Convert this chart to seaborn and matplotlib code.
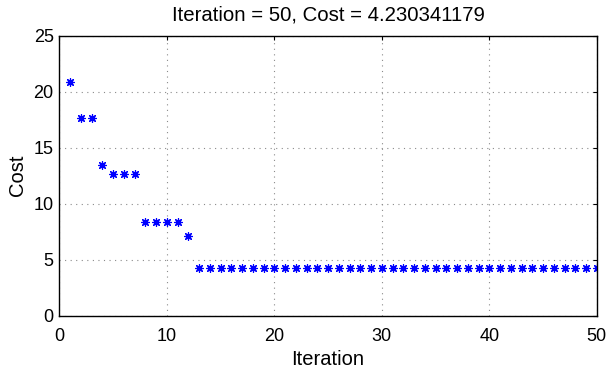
import matplotlib
matplotlib.use("Agg")
import matplotlib.pyplot as plt
import seaborn as sns
import pandas as pd

iterations = list(range(1, 51))
cost = [20.9, 17.65, 17.65, 13.47, 12.61, 12.61, 12.61, 8.37, 8.37, 8.37, 8.37, 7.13] + [4.230341179] * 38
x_ticks = [0, 10, 20, 30, 40, 50]
y_ticks = [0, 5, 10, 15, 20, 25]

sns.set_style("white")
plt.rcParams['font.family'] = ['Liberation Sans', 'DejaVu Sans']
plt.rcParams['text.color'] = 'black'
plt.rcParams['axes.labelcolor'] = 'black'

df = pd.DataFrame({"Iteration": iterations, "Cost": cost})

fig = plt.figure(figsize=(6.08, 3.71), dpi=100)
ax = fig.add_axes([0.0975, 0.149, 0.884, 0.755])
sns.scatterplot(data=df, x="Iteration", y="Cost", ax=ax, marker=(8, 2, 0),
                color="blue", s=30, linewidth=0.9, edgecolor="blue", legend=False)
ax.set_xlim(0, 50)
ax.set_ylim(0, 25)
ax.set_xticks(x_ticks)
ax.set_yticks(y_ticks)
ax.grid(True, linestyle=(0, (1, 4)), color="#8a8a8a", linewidth=0.8)
ax.tick_params(direction="in", length=3, labelsize=13, top=True, right=True,
               colors="black", labelcolor="black")
ax.tick_params(axis="x", pad=8.5)
ax.tick_params(axis="y", pad=4)
for s in ax.spines.values():
    s.set_visible(True)
    s.set_color("black")
    s.set_linewidth(1.0)
ax.set_xlabel("Iteration", fontsize=14.5, labelpad=4, color="black")
ax.set_ylabel("Cost", fontsize=14.5, labelpad=5, color="black")
ax.set_title("Iteration = 50, Cost = 4.230341179", fontsize=14.7, pad=11, color="black")
fig.savefig("out.png", dpi=100)
